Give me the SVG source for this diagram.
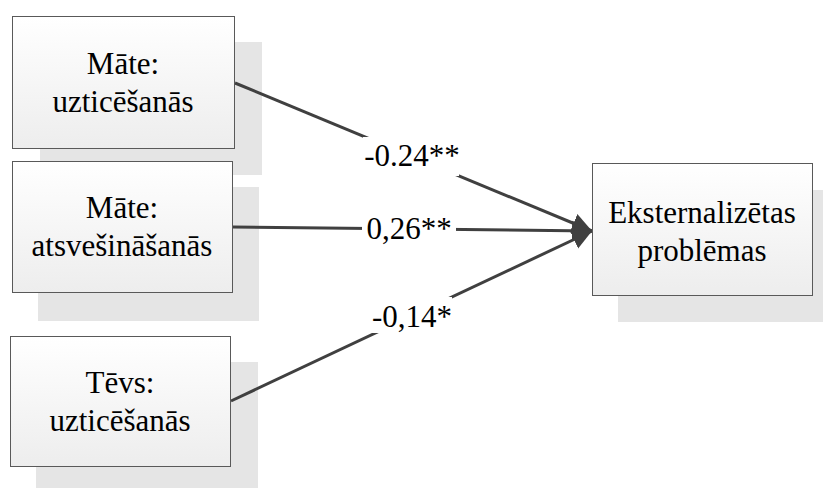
<svg xmlns="http://www.w3.org/2000/svg" width="823" height="488" viewBox="0 0 823 488">
<defs>
<linearGradient id="bg" x1="0" y1="0" x2="0" y2="1">
<stop offset="0" stop-color="#ffffff"/>
<stop offset="1" stop-color="#ededed"/>
</linearGradient>
<marker id="ah" markerUnits="userSpaceOnUse" markerWidth="22" markerHeight="22" refX="20" refY="10" orient="auto" viewBox="0 0 22 20">
<path d="M0,0 L20,10 L0,20 Z" fill="#404040"/>
</marker>
<style>
.sh{fill:#e5e5e5}
.bx{fill:url(#bg);stroke:#595959;stroke-width:1}
.t{font-size:31px;fill:#000;text-anchor:middle}
.ln{stroke:#404040;stroke-width:3;fill:none;marker-end:url(#ah)}
.lb{fill:#ffffff}
</style>
</defs>
<rect width="823" height="488" fill="#ffffff"/>
<g id="shadows">
<rect class="sh" x="40" y="42" width="222" height="133"/>
<rect class="sh" x="38" y="187" width="221" height="134"/>
<rect class="sh" x="36" y="362" width="222" height="126"/>
<rect class="sh" x="618" y="190" width="205" height="132"/>
</g>
<g id="connectors" font-family="Liberation Serif, Times New Roman, serif">
<line class="ln" x1="235" y1="83" x2="592" y2="231"/>
<line class="ln" x1="233" y1="227" x2="592" y2="231"/>
<line class="ln" x1="231" y1="401" x2="592" y2="231"/>
<rect class="lb" x="363" y="137" width="96" height="39"/>
<rect class="lb" x="362" y="213" width="94" height="33"/>
<rect class="lb" x="372" y="297" width="80" height="36"/>
<text class="t" x="412" y="166">-0.24**</text>
<text class="t" x="409" y="239">0,26**</text>
<text class="t" x="412" y="327">-0,14*</text>
</g>
<g id="n1" font-family="Liberation Serif, Times New Roman, serif">
<rect class="bx" x="12.5" y="16.5" width="222" height="132"/>
<text class="t" x="123" y="74">Māte:</text>
<text class="t" x="123" y="112">uzticēšanās</text>
</g>
<g id="n2" font-family="Liberation Serif, Times New Roman, serif">
<rect class="bx" x="12.5" y="161.5" width="220" height="131"/>
<text class="t" x="122" y="218">Māte:</text>
<text class="t" x="122" y="256">atsvešināšanās</text>
</g>
<g id="n3" font-family="Liberation Serif, Times New Roman, serif">
<rect class="bx" x="10.5" y="336.5" width="220" height="130"/>
<text class="t" x="120" y="393">Tēvs:</text>
<text class="t" x="120" y="431">uzticēšanās</text>
</g>
<g id="n4" font-family="Liberation Serif, Times New Roman, serif">
<rect class="bx" x="592.5" y="163.5" width="220" height="132"/>
<text class="t" x="702" y="223">Eksternalizētas</text>
<text class="t" x="702" y="261">problēmas</text>
</g>
</svg>
